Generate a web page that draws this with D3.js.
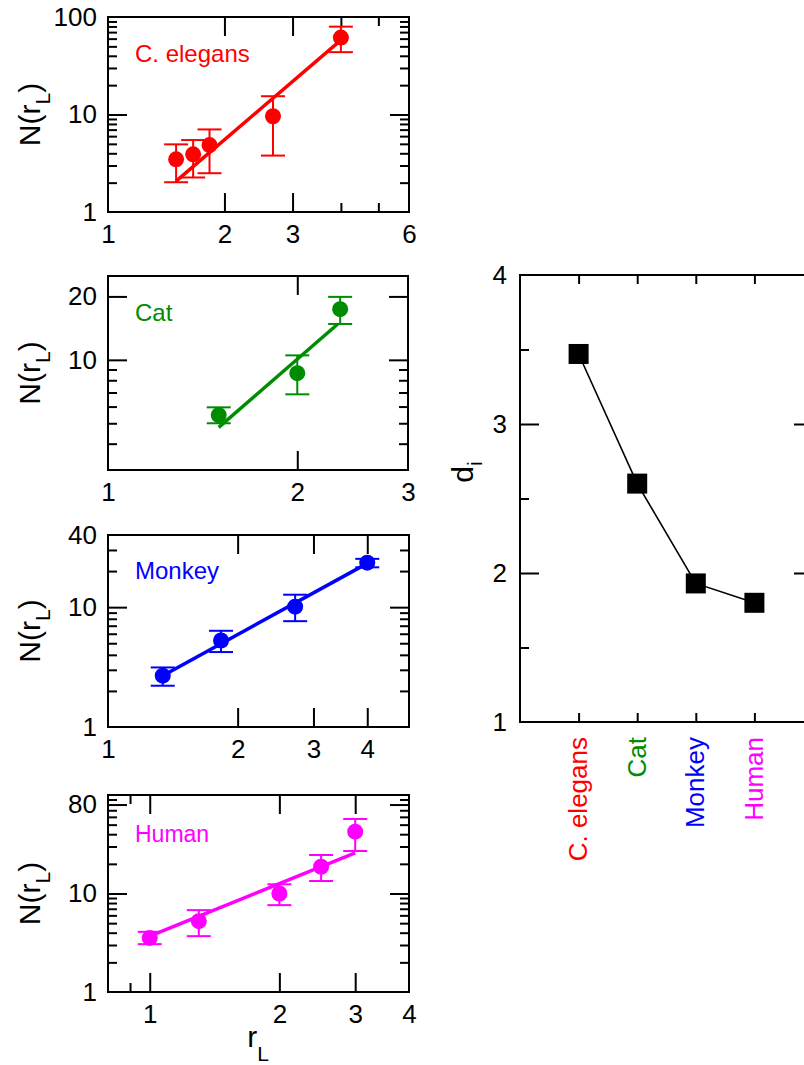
<!DOCTYPE html>
<html>
<head>
<meta charset="utf-8">
<script src="https://cdn.jsdelivr.net/npm/d3@7"></script>
<style>
  html, body { margin: 0; padding: 0; background: #fff; }
  svg { display: block; }
  text { font-family: "Liberation Sans", Arial, Helvetica, sans-serif; }
</style>
</head>
<body>
<svg id="chart" width="804" height="1065"></svg>
<script>
// ---------------- DATA ----------------
const celegansX = [1.5, 1.66, 1.83, 2.67, 4.0];
const celegansY = [3.47, 3.9, 4.86, 9.6, 61.5];
const celegansHi = [4.94, 5.47, 7.03, 15.4, 79.6];
const celegansLo = [2.02, 2.26, 2.5, 3.79, 43.6];
const celegansFitX = [1.5, 4.0];
const celegansFitY = [2.07, 58];

const catX = [1.5, 2.0, 2.34];
const catY = [5.47, 8.64, 17.4];
const catHi = [5.95, 10.5, 19.9];
const catLo = [5.0, 6.86, 14.8];
const catFitX = [1.5, 2.32];
const catFitY = [4.78, 14.8];

const monkeyX = [1.34, 1.83, 2.72, 4.0];
const monkeyY = [2.68, 5.27, 10.1, 23.5];
const monkeyHi = [3.14, 6.35, 12.7, 25.3];
const monkeyLo = [2.21, 4.22, 7.64, 21.5];
const monkeyFitX = [1.34, 4.0];
const monkeyFitY = [2.68, 23.2];

const humanX = [1.0, 1.3, 2.0, 2.5, 3.0];
const humanY = [3.54, 5.24, 10.0, 18.7, 42.4];
const humanHi = [4.08, 6.78, 12.4, 24.6, 57.1];
const humanLo = [3.06, 3.69, 7.62, 13.4, 27.0];
const humanFitX = [1.0, 3.0];
const humanFitY = [3.69, 25.9];

const species = ["C. elegans", "Cat", "Monkey", "Human"];
const dValues = [3.47, 2.60, 1.93, 1.80];

// tick labels
const p1XLabels = [1, 2, 3, 6];
const p1YLabels = [1, 10, 100];
const p2XLabels = [1, 2, 3];
const p2YLabels = [10, 20];
const p3XLabels = [1, 2, 3, 4];
const p3YLabels = [1, 10, 40];
const p4XLabels = [1, 2, 3, 4];
const p4YLabels = [1, 10, 80];
const dYLabels = [1, 2, 3, 4];

// ---------------- DRAW ----------------
const svg = d3.select("#chart");
const colors = { "C. elegans": "#ff0000", "Cat": "#008c00", "Monkey": "#0000ff", "Human": "#ff00ff" };
const FONT = 26;

function styleAxis(g) {
  g.select(".domain").remove();
  g.selectAll(".tick line").attr("stroke", "#000").attr("stroke-width", 2);
  g.selectAll(".tick text").attr("fill", "#000").style("font-size", FONT + "px")
    .style("font-family", '"Liberation Sans", Arial, Helvetica, sans-serif');
}

// draw inward ticks on all four sides + labels on bottom/left
function drawAxes(g, x, y, fr, o) {
  const add = (ax, t) => g.append("g").attr("transform", t).call(ax).call(styleAxis);
  const blank = () => "";
  const tb = [[d3.axisBottom, `translate(0,${fr.b})`], [d3.axisTop, `translate(0,${fr.t})`]];
  const lr = [[d3.axisLeft, `translate(${fr.l},0)`], [d3.axisRight, `translate(${fr.r},0)`]];
  tb.forEach(([A, t]) => {
    add(A(x).tickValues(o.xMajor).tickSize(-19).tickFormat(blank), t);
    add(A(x).tickValues(o.xMinor).tickSize(-9).tickFormat(blank), t);
  });
  lr.forEach(([A, t]) => {
    add(A(y).tickValues(o.yMajor).tickSize(-19).tickFormat(blank), t);
    add(A(y).tickValues(o.yMinor).tickSize(-9).tickFormat(blank), t);
  });
  add(d3.axisBottom(x).tickValues(o.xLabels).tickSize(0).tickPadding(13).tickFormat(d3.format("d")), tb[0][1]);
  add(d3.axisLeft(y).tickValues(o.yLabels).tickSize(0).tickPadding(11).tickFormat(d3.format("d")), lr[0][1]);
}

function logPanel(p) {
  const fr = p.frame;
  const x = d3.scaleLog().domain(p.xDomain).range([fr.l, fr.r]);
  const y = d3.scaleLog().domain(p.yDomain).range([fr.b, fr.t]);
  const g = svg.append("g");
  const col = colors[p.name];

  drawAxes(g, x, y, fr, p);

  g.append("rect").attr("x", fr.l).attr("y", fr.t)
    .attr("width", fr.r - fr.l).attr("height", fr.b - fr.t)
    .attr("fill", "none").attr("stroke", "#000").attr("stroke-width", 2);

  // fit line
  const fit = p.fitX.map((v, i) => [v, p.fitY[i]]);
  g.append("path").datum(fit)
    .attr("d", d3.line().x(d => x(d[0])).y(d => y(d[1])))
    .attr("stroke", col).attr("stroke-width", 3.5).attr("fill", "none");

  // error bars + points
  const pts = p.xs.map((v, i) => ({ x: v, y: p.ys[i], hi: p.hi[i], lo: p.lo[i] }));
  const eb = g.append("g").attr("stroke", col).attr("stroke-width", 2);
  pts.forEach(d => {
    const cx = x(d.x);
    eb.append("line").attr("x1", cx).attr("x2", cx).attr("y1", y(d.lo)).attr("y2", y(d.hi));
    eb.append("line").attr("x1", cx - 12).attr("x2", cx + 12).attr("y1", y(d.lo)).attr("y2", y(d.lo));
    eb.append("line").attr("x1", cx - 12).attr("x2", cx + 12).attr("y1", y(d.hi)).attr("y2", y(d.hi));
  });
  g.selectAll("circle.pt").data(pts).enter().append("circle")
    .attr("cx", d => x(d.x)).attr("cy", d => y(d.y)).attr("r", 8).attr("fill", col);

  // species label
  g.append("text").attr("x", fr.l + 27).attr("y", p.labelY)
    .attr("fill", col).style("font-size", p.labelSize + "px").text(p.name);

  // y title
  const cy = (fr.t + fr.b) / 2;
  const yt = g.append("text").attr("transform", `translate(40,${cy}) rotate(-90)`)
    .attr("text-anchor", "middle").style("font-size", "30px").attr("fill", "#000");
  yt.append("tspan").text("N(r");
  yt.append("tspan").attr("dy", 10).style("font-size", "21px").text("L");
  yt.append("tspan").attr("dy", -10).style("font-size", "30px").text(")");
}

logPanel({
  name: "C. elegans", frame: { l: 108, r: 409, t: 17, b: 212 },
  xDomain: [1, 6], yDomain: [1, 100],
  xMajor: [2, 3], xMinor: [4, 5], xLabels: p1XLabels,
  yMajor: [10], yMinor: [2, 3, 4, 5, 6, 7, 8, 9, 20, 30, 40, 50, 60, 70, 80, 90], yLabels: p1YLabels,
  xs: celegansX, ys: celegansY, hi: celegansHi, lo: celegansLo,
  fitX: celegansFitX, fitY: celegansFitY, labelY: 62, labelSize: 24
});
logPanel({
  name: "Cat", frame: { l: 108, r: 408, t: 276, b: 470 },
  xDomain: [1, 3], yDomain: [3, 25],
  xMajor: [2], xMinor: [], xLabels: p2XLabels,
  yMajor: [10, 20], yMinor: [4, 5, 6, 7, 8, 9], yLabels: p2YLabels,
  xs: catX, ys: catY, hi: catHi, lo: catLo,
  fitX: catFitX, fitY: catFitY, labelY: 321, labelSize: 24
});
logPanel({
  name: "Monkey", frame: { l: 108, r: 409, t: 535, b: 727 },
  xDomain: [1, 5], yDomain: [1, 40],
  xMajor: [2, 3, 4], xMinor: [], xLabels: p3XLabels,
  yMajor: [10], yMinor: [2, 3, 4, 5, 6, 7, 8, 9, 20, 30], yLabels: p3YLabels,
  xs: monkeyX, ys: monkeyY, hi: monkeyHi, lo: monkeyLo,
  fitX: monkeyFitX, fitY: monkeyFitY, labelY: 579, labelSize: 24
});
logPanel({
  name: "Human", frame: { l: 108, r: 409, t: 795, b: 992 },
  xDomain: [0.8, 4], yDomain: [1, 100],
  xMajor: [1, 2, 3], xMinor: [0.9], xLabels: p4XLabels,
  yMajor: [10, 80], yMinor: [2, 3, 4, 5, 6, 7, 8, 9, 20, 30, 40, 50, 60, 70, 90], yLabels: p4YLabels,
  xs: humanX, ys: humanY, hi: humanHi, lo: humanLo,
  fitX: humanFitX, fitY: humanFitY, labelY: 842, labelSize: 23
});

// x title of bottom-left panel
const xt = svg.append("text").attr("x", 258).attr("y", 1047).attr("text-anchor", "middle")
  .style("font-size", "30px").attr("fill", "#000");
xt.append("tspan").text("r");
xt.append("tspan").attr("dy", 14).style("font-size", "21px").text("L");

// ---------------- RIGHT PANEL ----------------
(function () {
  const fr = { l: 520, r: 813, t: 275, b: 722 };
  const x = d3.scaleLinear().domain([0, species.length + 1]).range([fr.l, fr.r]);
  const y = d3.scaleLinear().domain([1, 4]).range([fr.b, fr.t]);
  const g = svg.append("g");
  const idx = species.map((s, i) => i + 1);

  const add = (ax, t) => g.append("g").attr("transform", t).call(ax).call(styleAxis);
  const blank = () => "";
  add(d3.axisBottom(x).tickValues(idx).tickSize(-9).tickFormat(blank), `translate(0,${fr.b})`);
  add(d3.axisTop(x).tickValues(idx).tickSize(-9).tickFormat(blank), `translate(0,${fr.t})`);
  add(d3.axisLeft(y).tickValues([2, 3]).tickSize(-19).tickFormat(blank), `translate(${fr.l},0)`);
  add(d3.axisLeft(y).tickValues([1.5, 2.5, 3.5]).tickSize(-9).tickFormat(blank), `translate(${fr.l},0)`);
  add(d3.axisRight(y).tickValues([2, 3]).tickSize(-19).tickFormat(blank), `translate(${fr.r},0)`);
  add(d3.axisRight(y).tickValues([1.5, 2.5, 3.5]).tickSize(-9).tickFormat(blank), `translate(${fr.r},0)`);
  add(d3.axisLeft(y).tickValues(dYLabels).tickSize(0).tickPadding(13).tickFormat(d3.format("d")), `translate(${fr.l},0)`);

  g.append("rect").attr("x", fr.l).attr("y", fr.t)
    .attr("width", fr.r - fr.l).attr("height", fr.b - fr.t)
    .attr("fill", "none").attr("stroke", "#000").attr("stroke-width", 2);

  const pts = species.map((s, i) => ({ s, i: i + 1, d: dValues[i] }));
  g.append("path").datum(pts)
    .attr("d", d3.line().x(d => x(d.i)).y(d => y(d.d)))
    .attr("stroke", "#000").attr("stroke-width", 1.6).attr("fill", "none");
  g.selectAll("rect.sq").data(pts).enter().append("rect")
    .attr("x", d => x(d.i) - 10).attr("y", d => y(d.d) - 10)
    .attr("width", 20).attr("height", 20).attr("fill", "#000");

  // category labels
  pts.forEach(d => {
    g.append("text").attr("transform", `translate(${x(d.i)},737) rotate(-90)`)
      .attr("text-anchor", "end").attr("dy", "0.33em")
      .style("font-size", "26px").attr("fill", colors[d.s]).text(d.s);
  });

  // y title
  const t = g.append("text").attr("transform", `translate(473,472) rotate(-90)`)
    .attr("text-anchor", "middle").style("font-size", "30px").attr("fill", "#000");
  t.append("tspan").text("d");
  t.append("tspan").attr("dy", 9).style("font-size", "21px").text("i");
})();
</script>
</body>
</html>
